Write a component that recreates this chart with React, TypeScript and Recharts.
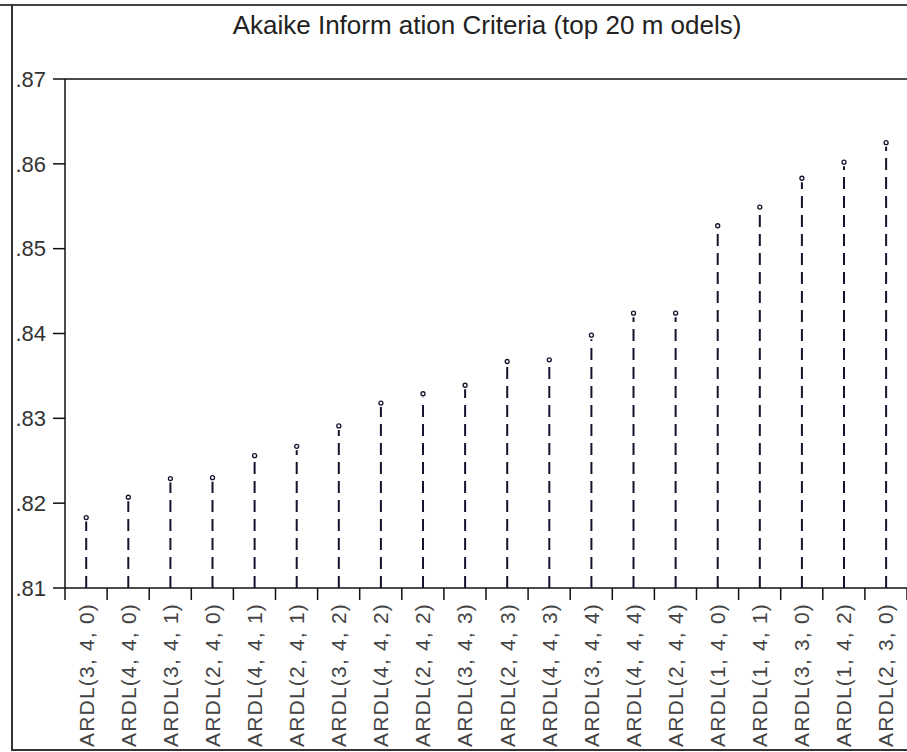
import React from 'react';
import { ComposedChart, Bar, XAxis, YAxis, ReferenceLine } from 'recharts';

// model order as listed on the x axis (lowest AIC first)
const MODELS = [
    'ARDL(3, 4, 0)', 'ARDL(4, 4, 0)', 'ARDL(3, 4, 1)', 'ARDL(2, 4, 0)', 'ARDL(4, 4, 1)',
    'ARDL(2, 4, 1)', 'ARDL(3, 4, 2)', 'ARDL(4, 4, 2)', 'ARDL(2, 4, 2)', 'ARDL(3, 4, 3)',
    'ARDL(2, 4, 3)', 'ARDL(4, 4, 3)', 'ARDL(3, 4, 4)', 'ARDL(4, 4, 4)', 'ARDL(2, 4, 4)',
    'ARDL(1, 4, 0)', 'ARDL(1, 4, 1)', 'ARDL(3, 3, 0)', 'ARDL(1, 4, 2)', 'ARDL(2, 3, 0)',
];

const AIC = [
    0.8183, 0.8207, 0.8229, 0.8230, 0.8256,
    0.8267, 0.8291, 0.8318, 0.8329, 0.8339,
    0.8367, 0.8369, 0.8398, 0.8424, 0.8424,
    0.8527, 0.8549, 0.8583, 0.8602, 0.8625,
];

const Y_TICKS = [0.81, 0.82, 0.83, 0.84, 0.85, 0.86, 0.87];

const FONT = '"Liberation Sans", Arial, sans-serif';
const INK = '#14142e';

const data = MODELS.map((name, i) => ({ name, aic: AIC[i] }));

// dashed stem from the axis up to the value, with a small marker on top
const Stem = (props: any) => {
    const { x, y, width, height } = props;
    const cx = x + width / 2;
    return (
        <g>
            <line x1={cx} y1={y + height} x2={cx} y2={y + 4} stroke={INK} strokeWidth={2} strokeDasharray="12 7" />
            <circle cx={cx} cy={y} r={2} fill="#fff" stroke={INK} strokeWidth={1.3} />
        </g>
    );
};

// rotated label plus the separator ticks between category slots
const ModelTick = (props: any) => {
    const { x, y, payload, index, width, visibleTicksCount } = props;
    const band = width / visibleTicksCount;
    const last = index === visibleTicksCount - 1;
    const ly = y + 15;
    return (
        <g>
            <line x1={x - band / 2} y1={y} x2={x - band / 2} y2={y + 12} stroke="#111" strokeWidth={1.5} />
            {last && <line x1={x + band / 2} y1={y} x2={x + band / 2} y2={y + 12} stroke="#111" strokeWidth={1.5} />}
            <text
                x={x}
                y={ly}
                transform={`rotate(-90, ${x}, ${ly})`}
                textAnchor="end"
                dominantBaseline="central"
                fontFamily={FONT}
                fontSize={21}
                fill="#444"
                style={{ letterSpacing: 1.2 }}
            >
                {payload.value}
            </text>
        </g>
    );
};

export default function App() {
    return (
        <div style={{ position: 'absolute', left: 0, top: 0, width: 907, height: 752, background: '#fff' }}>
            {/* outer frame: top, left and bottom edges only */}
            <div style={{ position: 'absolute', left: 0, top: 4, width: 907, height: 2, background: '#444' }} />
            <div style={{ position: 'absolute', left: 11, top: 4, width: 2, height: 747, background: '#333' }} />
            <div style={{ position: 'absolute', left: 11, top: 749, width: 896, height: 2, background: '#333' }} />

            <div
                style={{
                    position: 'absolute',
                    left: 0,
                    top: 10,
                    width: 907,
                    paddingLeft: 67,
                    boxSizing: 'border-box',
                    textAlign: 'center',
                    fontFamily: FONT,
                    fontSize: 26,
                    color: '#222',
                    whiteSpace: 'nowrap',
                }}
            >
                Akaike Inform ation Criteria (top 20 m odels)
            </div>

            <ComposedChart
                width={907}
                height={752}
                data={data}
                margin={{ top: 79, right: 0, bottom: 0, left: 0 }}
                style={{ position: 'absolute', left: 0, top: 0 }}
            >
                <XAxis
                    dataKey="name"
                    interval={0}
                    height={164}
                    tickLine={false}
                    tickSize={0}
                    tickMargin={0}
                    axisLine={{ stroke: '#111', strokeWidth: 1.5 }}
                    tick={<ModelTick />}
                />
                <YAxis
                    domain={[0.81, 0.87]}
                    ticks={Y_TICKS}
                    allowDataOverflow
                    width={65}
                    tickSize={12}
                    tickMargin={7}
                    interval={0}
                    tickFormatter={(v: number) => '.' + Math.round(v * 100)}
                    tick={{ fontFamily: FONT, fontSize: 22, fill: '#333' }}
                    tickLine={{ stroke: '#111', strokeWidth: 1.5 }}
                    axisLine={{ stroke: '#111', strokeWidth: 1.5 }}
                />
                <ReferenceLine y={0.87} stroke="#111" strokeWidth={1.5} />
                <Bar dataKey="aic" shape={<Stem />} isAnimationActive={false} />
            </ComposedChart>
        </div>
    );
}
